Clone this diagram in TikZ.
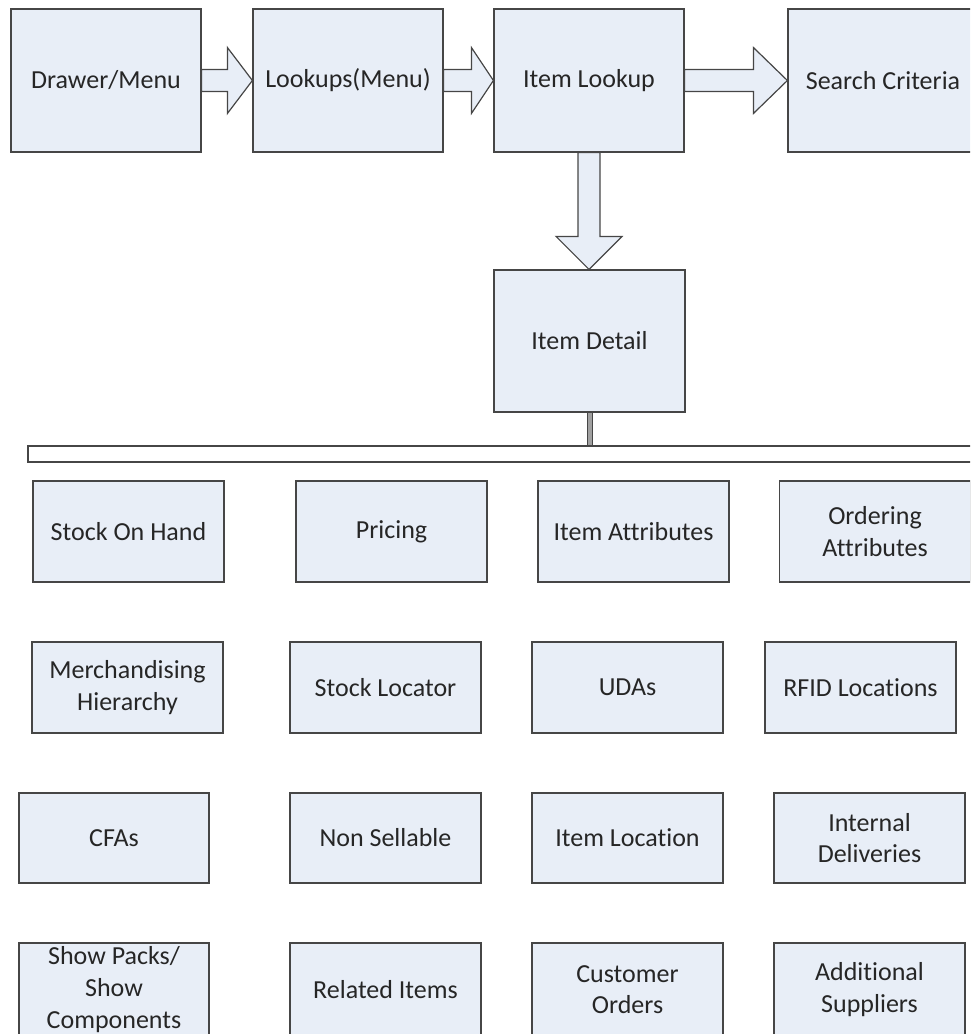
\documentclass[tikz,border=0pt]{standalone}
\usepackage{fontspec}
\setmainfont{Carlito}[Ligatures=NoCommon]
\usetikzlibrary{calc}

\definecolor{boxfill}{RGB}{232,238,247}
\definecolor{boxline}{RGB}{70,70,70}
\definecolor{stemfill}{RGB}{160,160,160}

\tikzset{
  screen/.style={draw=boxline, fill=boxfill, line width=1.2pt, rectangle,
    inner sep=0pt, align=center, text=black!85,
    font=\fontsize{26}{31.7}\selectfont},
  blockarrow/.style={draw=boxline, fill=boxfill, line width=1.2pt, line join=miter},
  busbar/.style={draw=boxline, fill=white, line width=1.2pt, rectangle, inner sep=0pt},
  stem/.style={draw=boxline, fill=stemfill, line width=1pt}
}

% horizontal block arrow: from anchor, to anchor, head length
\newcommand{\rightblock}[3]{%
  \draw[blockarrow] let \p1=(#1), \p2=(#2) in
    (\x1,\y1+11pt) -- (\x2-#3,\y1+11pt) -- (\x2-#3,\y1+33pt) -- (\x2,\y1)
    -- (\x2-#3,\y1-33pt) -- (\x2-#3,\y1-11pt) -- (\x1,\y1-11pt) -- cycle;}

\begin{document}
\begin{tikzpicture}[x=1pt, y=-1pt]

\useasboundingbox (0,0) rectangle (970,1034);
\clip (0,0) rectangle (970,1034);

% Top row
\node[screen, minimum width=190pt, minimum height=143pt] (drawer) at (106,80.5) {Drawer/Menu};
\node[screen, minimum width=190pt, minimum height=143pt] (lookups) at (348,80.5) {Lookups(Menu)};
\node[screen, minimum width=190pt, minimum height=143pt] (itemlookup) at (589,80.5) {Item Lookup};
\node[screen, minimum width=190pt, minimum height=143pt] (search) at (883,80.5) {Search Criteria};

% Detail
\node[screen, minimum width=191pt, minimum height=142pt] (detail) at (589.5,341) {Item Detail};

% Arrows
\rightblock{drawer.east}{lookups.west}{25pt}
\rightblock{lookups.east}{itemlookup.west}{22pt}
\rightblock{itemlookup.east}{search.west}{34pt}
\draw[blockarrow] let \p1=(itemlookup.south), \p2=(detail.north) in
  (\x1-11pt,\y1) -- (\x1-11pt,\y2+33pt) -- (\x1-33pt,\y2+33pt) -- (\x1,\y2)
  -- (\x1+33pt,\y2+33pt) -- (\x1+11pt,\y2+33pt) -- (\x1+11pt,\y1) -- cycle;

% Bar
\node[busbar, minimum width=972pt, minimum height=16pt] (bar) at (514,454) {};
\draw[stem] ($(detail.south)+(-2.5pt,0)$) rectangle ($(detail.south |- bar.north)+(2.5pt,0)$);

% Row 1
\node[screen, minimum width=191pt, minimum height=101pt] (stock) at (128.5,531.5) {Stock On Hand};
\node[screen, minimum width=191pt, minimum height=101pt] (pricing) at (391.5,531.5) {Pricing};
\node[screen, minimum width=191pt, minimum height=101pt] (itemattr) at (633.5,531.5) {Item Attributes};
\node[screen, minimum width=191pt, minimum height=101pt] (orderattr) at (875,531.5) {Ordering\\Attributes};

% Row 2
\node[screen, minimum width=191pt, minimum height=91pt] (merch) at (127.5,687.5) {Merchandising\\Hierarchy};
\node[screen, minimum width=191pt, minimum height=91pt] (locator) at (385.5,687.5) {Stock Locator};
\node[screen, minimum width=191pt, minimum height=91pt] (udas) at (627.5,687.5) {UDAs};
\node[screen, minimum width=191pt, minimum height=91pt] (rfid) at (860.5,687.5) {RFID Locations};

% Row 3
\node[screen, minimum width=190pt, minimum height=90pt] (cfas) at (114,838) {CFAs};
\node[screen, minimum width=191pt, minimum height=90pt] (nonsell) at (385.5,838) {Non Sellable};
\node[screen, minimum width=191pt, minimum height=90pt] (itemloc) at (627.5,838) {Item Location};
\node[screen, minimum width=191pt, minimum height=90pt] (internal) at (869.5,838) {Internal\\Deliveries};

% Row 4
\node[screen, minimum width=190pt, minimum height=93pt] (packs) at (114,989.5) {Show Packs/\\Show\\Components};
\node[screen, minimum width=191pt, minimum height=93pt] (related) at (385.5,989.5) {Related Items};
\node[screen, minimum width=191pt, minimum height=93pt] (custorders) at (627.5,989.5) {Customer\\Orders};
\node[screen, minimum width=191pt, minimum height=93pt] (suppliers) at (869.5,989.5) {Additional\\Suppliers};

\end{tikzpicture}
\end{document}
